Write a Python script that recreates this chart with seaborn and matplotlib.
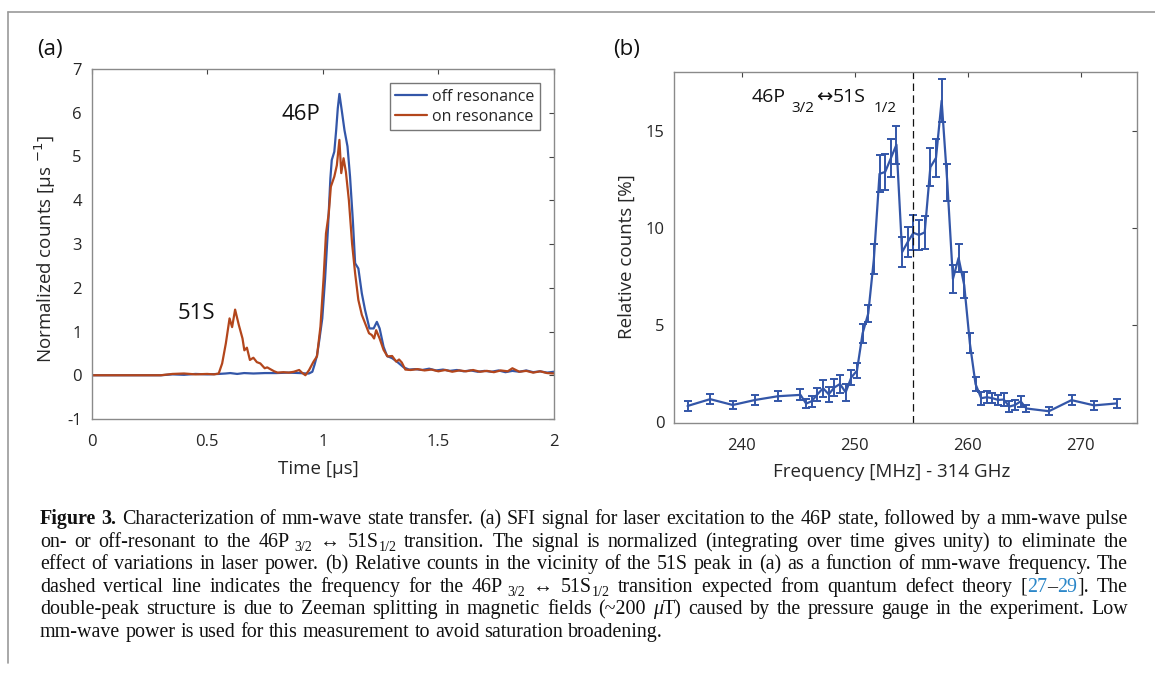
import re
import matplotlib
matplotlib.use('Agg')
import matplotlib.pyplot as plt
import seaborn as sns
from matplotlib.lines import Line2D
from matplotlib.transforms import IdentityTransform

sns.set_theme(style='white')
plt.rcParams['font.family'] = ['Open Sans', 'DejaVu Sans']
plt.rcParams['mathtext.fontset'] = 'dejavusans'
plt.rcParams['axes.unicode_minus'] = False

# ---------------------------------------------------------------------------
# data
# ---------------------------------------------------------------------------
# (a) SFI signal, off resonance
t_off = [0.0, 0.30, 0.35, 0.40, 0.45, 0.50, 0.55, 0.58, 0.60, 0.63, 0.66, 0.70,
         0.75, 0.80, 0.85, 0.90, 0.93, 0.94, 0.955, 0.965, 0.975, 0.985, 0.998,
         1.010, 1.023, 1.033, 1.039, 1.050, 1.058, 1.065, 1.072, 1.082, 1.094,
         1.107, 1.118, 1.130, 1.140, 1.154, 1.169, 1.183, 1.202, 1.220, 1.234,
         1.246, 1.263, 1.278, 1.300, 1.321, 1.350, 1.373, 1.40, 1.43, 1.46, 1.49,
         1.52, 1.55, 1.58, 1.61, 1.64, 1.67, 1.70, 1.73, 1.76, 1.79, 1.82, 1.85,
         1.88, 1.91, 1.94, 1.97, 2.00]
v_off = [0, 0, 0.02, 0.01, 0.03, 0.02, 0.03, 0.04, 0.05, 0.03, 0.05, 0.04,
         0.05, 0.05, 0.06, 0.05, 0.04, 0.04, 0.08, 0.25, 0.45, 0.80, 1.30,
         2.20, 3.40, 4.50, 4.92, 5.11, 5.60, 6.10, 6.43, 6.06, 5.60,
         5.23, 4.54, 3.55, 2.56, 2.44, 1.87, 1.49, 1.07, 1.07, 1.22,
         1.07, 0.65, 0.44, 0.39, 0.31, 0.18, 0.13, 0.14, 0.12, 0.15, 0.11,
         0.13, 0.10, 0.12, 0.09, 0.11, 0.08, 0.10, 0.08, 0.11, 0.07, 0.10, 0.08,
         0.11, 0.07, 0.09, 0.06, 0.08]

# (a) SFI signal, on resonance
t_on = [0.0, 0.30, 0.35, 0.40, 0.45, 0.50, 0.53, 0.55, 0.565, 0.581, 0.597, 0.608,
        0.621, 0.637, 0.653, 0.661, 0.672, 0.685, 0.700, 0.715, 0.730, 0.749,
        0.760, 0.773, 0.790, 0.805, 0.830, 0.853, 0.875, 0.898, 0.910, 0.925,
        0.941, 0.960, 0.975, 0.990, 1.004, 1.014, 1.026, 1.035, 1.050, 1.061,
        1.072, 1.080, 1.090, 1.100, 1.113, 1.127, 1.140, 1.154, 1.169, 1.183,
        1.200, 1.212, 1.222, 1.231, 1.246, 1.263, 1.280, 1.300, 1.318, 1.330,
        1.342, 1.357, 1.380, 1.41, 1.44, 1.47, 1.50, 1.53, 1.56, 1.59, 1.62,
        1.65, 1.68, 1.71, 1.74, 1.77, 1.80, 1.82, 1.85, 1.88, 1.91, 1.94, 1.97, 2.00]
v_on = [0, 0, 0.03, 0.04, 0.02, 0.03, 0.02, 0.04, 0.27, 0.73, 1.30, 1.10,
        1.50, 1.15, 0.84, 0.57, 0.63, 0.35, 0.40, 0.30, 0.27, 0.16,
        0.18, 0.14, 0.09, 0.06, 0.07, 0.06, 0.08, 0.12, 0.06, 0.00,
        0.12, 0.31, 0.43, 1.11, 2.25, 3.24, 3.70, 4.31, 4.54, 4.80,
        5.38, 4.62, 4.96, 4.65, 4.00, 3.00, 2.33, 1.72, 1.38, 1.19,
        0.96, 0.92, 0.84, 1.03, 0.84, 0.58, 0.43, 0.44, 0.31, 0.36,
        0.29, 0.13, 0.12, 0.14, 0.11, 0.13, 0.09, 0.12, 0.08, 0.11, 0.09,
        0.12, 0.08, 0.10, 0.07, 0.11, 0.09, 0.16, 0.08, 0.10, 0.06, 0.09, 0.05, 0.04]

# (b) relative counts vs mm-wave frequency
freq = [235.2, 237.2, 239.2, 241.2, 243.2, 245.2, 245.7, 246.2, 246.7, 247.2,
        247.7, 248.2, 248.7, 249.2, 249.7, 250.2, 250.7, 251.2, 251.7, 252.2,
        252.7, 253.2, 253.7, 254.2, 254.7, 255.2, 255.7, 256.2, 256.7, 257.2,
        257.7, 258.2, 258.7, 259.2, 259.7, 260.2, 260.7, 261.2, 261.7, 262.2,
        262.7, 263.2, 263.7, 264.2, 264.7, 265.2, 267.2, 269.2, 271.2, 273.2]
rel = [0.85, 1.20, 0.90, 1.16, 1.35, 1.42, 0.97, 1.10, 1.45, 1.76,
       1.45, 1.80, 1.98, 1.55, 2.32, 2.66, 4.58, 5.60, 8.40, 12.78,
       12.88, 13.58, 14.28, 8.76, 9.28, 9.75, 9.64, 9.77, 13.12, 13.60,
       16.54, 12.35, 7.38, 8.46, 7.06, 4.07, 1.98, 1.25, 1.30, 1.25,
       1.16, 1.18, 0.82, 0.90, 1.09, 0.72, 0.58, 1.15, 0.88, 0.98]
err = [0.25, 0.25, 0.22, 0.25, 0.27, 0.28, 0.25, 0.28, 0.32, 0.45,
       0.38, 0.42, 0.45, 0.45, 0.38, 0.38, 0.50, 0.45, 0.75, 0.95,
       0.92, 0.97, 0.98, 0.77, 0.77, 0.90, 0.75, 0.83, 0.97, 0.97,
       1.10, 0.94, 0.71, 0.71, 0.68, 0.51, 0.38, 0.34, 0.30, 0.26,
       0.26, 0.32, 0.26, 0.26, 0.27, 0.20, 0.20, 0.25, 0.22, 0.25]
f_theory = 255.17   # 46P3/2 <-> 51S1/2 from quantum defect theory

caption = [
    "*{Figure} *{3.} Characterization of mm-wave state transfer. (a) SFI signal for laser excitation to the 46P state, followed by a mm-wave pulse",
    "on- or off-resonant to the 46P!{3/2} \u2194 51S_{1/2} transition. The signal is normalized (integrating over time gives unity) to eliminate the",
    "effect of variations in laser power. (b) Relative counts in the vicinity of the 51S peak in (a) as a function of mm-wave frequency. The",
    "dashed vertical line indicates the frequency for the 46P!{3/2} \u2194 51S_{1/2} transition expected from quantum defect theory [#{27}\u2013#{29}]. The",
    "double-peak structure is due to Zeeman splitting in magnetic fields (~200 /{\u03bc}T) caused by the pressure gauge in the experiment. Low",
    "mm-wave power is used for this measurement to avoid saturation broadening.",
]

BLUE = '#3356a8'
RED = '#b3461c'
INK = '#262626'
SERIF = ['Liberation Serif', 'DejaVu Serif']
LINK = '#2b87c9'

# ---------------------------------------------------------------------------
W, H = 1155, 673
fig = plt.figure(figsize=(W / 100, H / 100), dpi=100)
fig.patch.set_facecolor('white')
R = fig.canvas.get_renderer()
ID = IdentityTransform()


def px_axes(left, top, right, bottom):
    return fig.add_axes([left / W, 1 - bottom / H, (right - left) / W, (bottom - top) / H])


def style(ax):
    ax.set_facecolor('white')
    ax.grid(False)
    for s in ax.spines.values():
        s.set_visible(True)
        s.set_color('#8a8a8a')
        s.set_linewidth(1.0)
    ax.tick_params(direction='in', length=3.5, width=0.8, color='#444444',
                   top=True, right=True, labelsize=12, labelcolor=INK)
    ax.tick_params(axis='x', pad=11)
    ax.tick_params(axis='y', pad=7)


ax1 = px_axes(91.5, 69, 554, 419)
ax2 = px_axes(674, 72.3, 1137, 422.5)

# ---- (a) ------------------------------------------------------------------
sns.lineplot(x=t_off, y=v_off, ax=ax1, color=BLUE, lw=1.6, estimator=None,
             sort=False, label='off resonance')
sns.lineplot(x=t_on, y=v_on, ax=ax1, color=RED, lw=1.6, estimator=None,
             sort=False, label='on resonance')
style(ax1)
ax1.set_xlim(0, 2)
ax1.set_ylim(-1, 7)
ax1.set_xticks([0, 0.5, 1, 1.5, 2])
ax1.set_xticklabels(['0', '0.5', '1', '1.5', '2'])
ax1.set_yticks(range(-1, 8))
ax1.set_xlabel('Time [\u00b5s]', fontsize=13.5, color=INK)
ax1.set_ylabel('Normalized counts [\u00b5s $^{-1}$]', fontsize=13.5, color=INK)
ax1.xaxis.set_label_coords(0.49, -0.118)
ax1.yaxis.set_label_coords(-0.072, 0.485)
ax1.text(0.904, 5.95, '46P', ha='center', va='center', fontsize=16, color='#111111')
ax1.text(0.453, 1.415, '51S', ha='center', va='center', fontsize=16, color='#111111')
leg = ax1.legend(loc='upper right', bbox_to_anchor=(0.970, 0.96), borderaxespad=0,
                 frameon=True, fancybox=False, edgecolor='#555555', fontsize=11.5,
                 handlelength=2.0, handletextpad=0.3, labelspacing=0.25, borderpad=0.35)
leg.get_frame().set_linewidth(1.0)
for txt in leg.get_texts():
    txt.set_color(INK)

# ---- (b) ------------------------------------------------------------------
sns.lineplot(x=freq, y=rel, ax=ax2, color=BLUE, lw=1.6, estimator=None, sort=False)
ax2.errorbar(freq, rel, yerr=err, fmt='none', ecolor=BLUE, elinewidth=1.4,
             capsize=3, capthick=1.4)
ax2.axvline(f_theory, color='#111111', lw=0.9, ls=(0, (6, 3.5)))
style(ax2)
ax2.set_xlim(234.0, 275.0)
ax2.set_ylim(0, 18)
ax2.set_xticks([240, 250, 260, 270])
ax2.set_yticks([0, 5, 10, 15])
ax2.set_xlabel('Frequency [MHz] - 314 GHz', fontsize=13.5, color=INK)
ax2.set_ylabel('Relative counts [%]', fontsize=13.5, color=INK)
ax2.xaxis.set_label_coords(0.47, -0.115)
ax2.yaxis.set_label_coords(-0.083, 0.473)


def measure(s, **kw):
    t = fig.text(0, 0, s, transform=ID, **kw)
    w = t.get_window_extent(R).width
    t.remove()
    return w


def run(x, y, pieces):
    # pieces: (text, kwargs, gap before [px], vertical shift [px])
    for s, kw, gap, dy in pieces:
        x += gap
        t = fig.text(x, y + dy, s, transform=ID, ha='left', va='baseline', **kw)
        x += t.get_window_extent(R).width
    return x


# transition label in (b)
x0, y0 = ax2.transData.transform((240.9, 16.45))
big = dict(fontsize=14, color='#111111')
small = dict(fontsize=11, color='#111111')
run(x0, y0, [('46P', big, 0, 0), ('3/2', small, 5, -10),
             ('\u2194', dict(big, family=['DejaVu Sans']), 2, 0),
             ('51S', big, 0, 0), ('1/2', small, 8, -10)])

# panel letters
fig.text(50 / W, 1 - 49 / H, '(a)', ha='center', va='center', fontsize=16, color='#111111')
fig.text(627 / W, 1 - 49 / H, '(b)', ha='center', va='center', fontsize=16, color='#111111')

# frame rules
fig.add_artist(Line2D([8 / W, 1], [1 - 12 / H, 1 - 12 / H], transform=fig.transFigure,
                      color='#9a9a9a', lw=1.2))
fig.add_artist(Line2D([8 / W, 8 / W], [1 - 12 / H, 1 - 663 / H], transform=fig.transFigure,
                      color='#9a9a9a', lw=1.2))

# ---- caption ----------------------------------------------------------------
MARK = {'*': 'b', '!': 'gsub', '_': 'sub', '#': 'link', '/': 'it'}


def parse(line):
    words = []
    for w in line.split(' '):
        pieces = []
        for m in re.finditer(r'([*!_#/])\{([^}]*)\}|([^*!_#/{}]+)', w):
            if m.group(3):
                pieces.append((m.group(3), 'r'))
            else:
                pieces.append((m.group(2), MARK[m.group(1)]))
        words.append(pieces)
    return words


def piece_kw(st, s):
    d = dict(family=SERIF, color='#111111', fontsize=s)
    if st == 'b':
        d['fontweight'] = 'bold'
    if st == 'it':
        d['fontstyle'] = 'italic'
    if st in ('sub', 'gsub'):
        d['fontsize'] = 0.7 * s
    if st == 'link':
        d['color'] = LINK
    return d


def word_pieces(word, s):
    out = []
    for txt, st in word:
        gap = 0.2 * s * 100 / 72 if st == 'gsub' else 0
        dy = -0.22 * s * 100 / 72 if st in ('sub', 'gsub') else 0
        out.append((txt, piece_kw(st, s), gap, dy))
    return out


def word_width(word, s):
    return sum(measure(t, **kw) + g for t, kw, g, _ in word_pieces(word, s))


CX0, CX1 = 40, 1128
parsed = [parse(l) for l in caption]
s0 = 12
sp0 = measure('a a', family=SERIF, fontsize=s0) - measure('aa', family=SERIF, fontsize=s0)
nat = [sum(word_width(w, s0) for w in ws) + (len(ws) - 1) * sp0 for ws in parsed[:5]]
cs = s0 * (CX1 - CX0) / max(nat) * 0.995
sp = measure('a a', family=SERIF, fontsize=cs) - measure('aa', family=SERIF, fontsize=cs)

for i, ws in enumerate(parsed):
    widths = [word_width(w, cs) for w in ws]
    gap = (CX1 - CX0 - sum(widths)) / (len(ws) - 1) if i < 5 else sp
    x = CX0
    yb = H - (524 + 22.6 * i)
    for w, wd in zip(ws, widths):
        run(x, yb, word_pieces(w, cs))
        x += wd + gap

fig.savefig('out.png', dpi=100, facecolor='white')
